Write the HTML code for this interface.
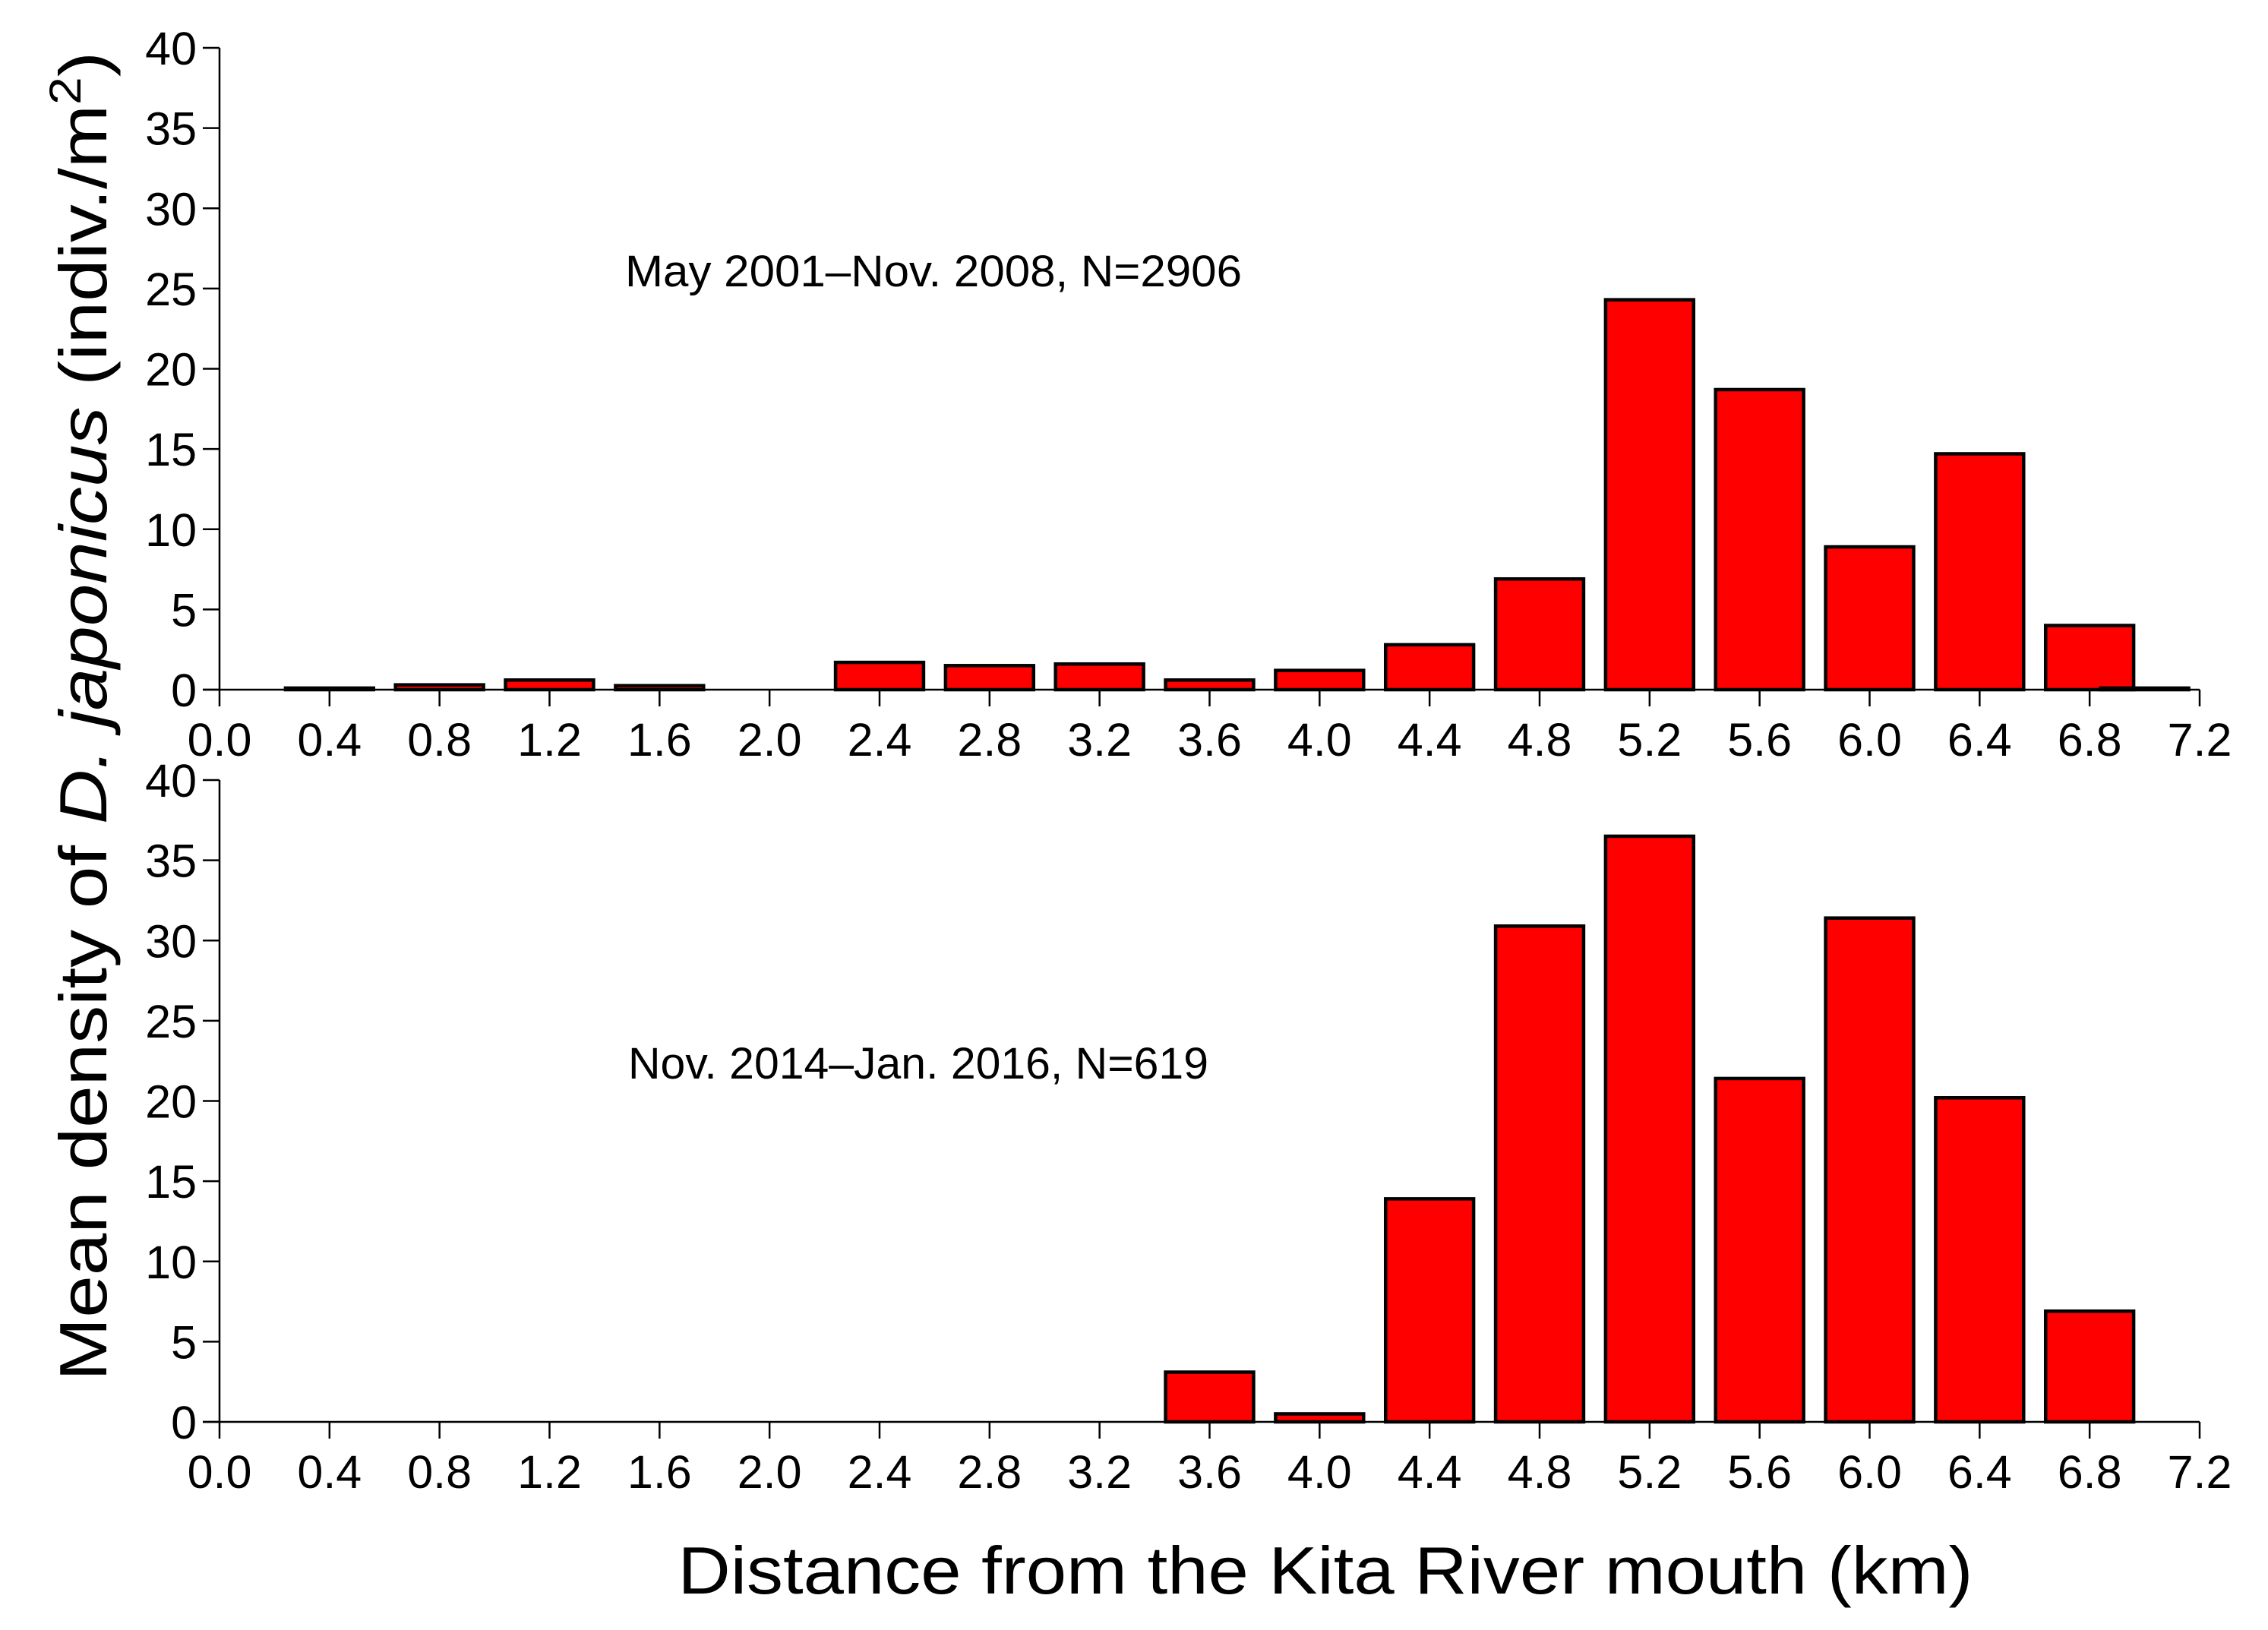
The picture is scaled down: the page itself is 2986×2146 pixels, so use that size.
<!DOCTYPE html>
<html><head><meta charset="utf-8"><style>
html,body{margin:0;padding:0;background:#fff;}
svg{display:block;}
text{font-family:"Liberation Sans","DejaVu Sans",sans-serif;fill:#000;}
</style></head><body>
<svg id="chart" width="2986" height="2146" viewBox="0 0 2986 2146" xmlns="http://www.w3.org/2000/svg">
<text transform="translate(140,943) rotate(-90)" text-anchor="middle" font-size="88" textLength="1750" lengthAdjust="spacingAndGlyphs">Mean density of <tspan font-style="italic">D. japonicus</tspan> (indiv./m<tspan dy="-34" font-size="58">2</tspan><tspan dy="34">)</tspan></text>
<text x="1745" y="2098" text-anchor="middle" font-size="88" textLength="1705" lengthAdjust="spacingAndGlyphs">Distance from the Kita River mouth (km)</text>
</svg>
<script>
const categories = [0.4,0.8,1.2,1.6,2.0,2.4,2.8,3.2,3.6,4.0,4.4,4.8,5.2,5.6,6.0,6.4,6.8,7.0];
const series2001 = [0.1,0.3,0.6,0.25,0,1.7,1.5,1.6,0.6,1.2,2.8,6.9,24.3,18.7,8.9,14.7,4.0,0.1];
const series2014 = [0,0,0,0,0,0,0,0,3.1,0.5,13.9,30.9,36.5,21.4,31.4,20.2,6.9,0];
const xTicks = ["0.0","0.4","0.8","1.2","1.6","2.0","2.4","2.8","3.2","3.6","4.0","4.4","4.8","5.2","5.6","6.0","6.4","6.8","7.2"];
const yTicks = [0,5,10,15,20,25,30,35,40];
const labels = ["May 2001\u2013Nov. 2008, N=2906","Nov. 2014\u2013Jan. 2016, N=619"];

const NS="http://www.w3.org/2000/svg";
const svg=document.getElementById('chart');
const X0=289, X1=2896, XMAX=7.2, YMAX=40, H=845;
function xs(v){return X0+(X1-X0)*v/XMAX;}
function mk(tag,attrs,parent){const e=document.createElementNS(NS,tag);for(const k in attrs)e.setAttribute(k,attrs[k]);(parent||svg).appendChild(e);return e;}

function panel(zeroY, values, label, labX, labY, labW, name){
  const g=mk('g',{});
  
  
  function ys(v){return zeroY-H*v/YMAX;}
  const bw=xs(0.32)-xs(0);
  values.forEach((v,i)=>{
    if(v<=0)return;
    const r=mk('rect',{x:xs(categories[i])-bw/2,y:ys(v),width:bw,height:ys(0)-ys(v),fill:'#ff0000',stroke:'#000','stroke-width':4.5},g);
    
    
  });
  const ax=mk('path',{d:`M${X0},${ys(YMAX)} V${zeroY} M${X0-22},${zeroY} H${X1}`,stroke:'#000','stroke-width':2.5,fill:'none'},g);
  
  
  yTicks.forEach(t=>{
    mk('line',{x1:X0-22,x2:X0,y1:ys(t),y2:ys(t),stroke:'#000','stroke-width':2.5},g);
    const tx=mk('text',{x:X0-30,y:ys(t)+22,'text-anchor':'end','font-size':61},g);
    tx.textContent=t;
    
    
  });
  xTicks.forEach(t=>{
    const x=xs(parseFloat(t));
    mk('line',{x1:x,x2:x,y1:zeroY,y2:zeroY+22,stroke:'#000','stroke-width':2.5},g);
    const tx=mk('text',{x:x,y:zeroY+87,'text-anchor':'middle','font-size':61},g);
    tx.textContent=t;
    
    
  });
  const lt=mk('text',{x:labX,y:labY,'font-size':58,textLength:labW,lengthAdjust:'spacingAndGlyphs'},g);
  lt.textContent=label;
  
  
}
panel(908, series2001, labels[0], 823, 377, 812, 'panel-2001-2008');
panel(1872, series2014, labels[1], 827, 1420, 764, 'panel-2014-2016');
</script>
</body></html>
